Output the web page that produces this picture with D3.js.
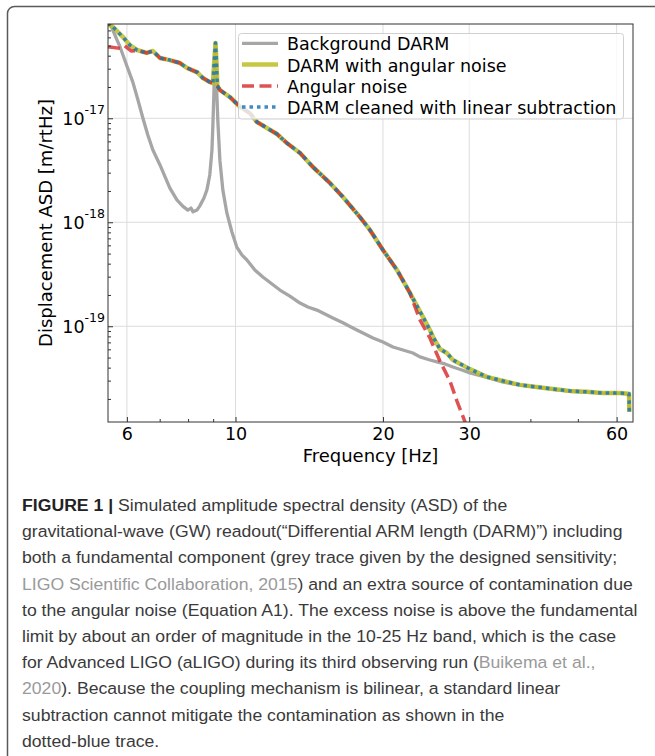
<!DOCTYPE html>
<html>
<head>
<meta charset="utf-8">
<script src="https://cdn.jsdelivr.net/npm/d3@7"></script>
<style>
  body { margin: 0; background: #fff; }
  svg text { font-family: "DejaVu Sans", sans-serif; }
</style>
</head>
<body>
<script>
// values (Hz, m/rtHz)
const bgFreq = [5.49, 5.59, 5.81, 6.00, 6.17, 6.32, 6.47, 6.62, 6.78, 7.01, 7.18, 7.34, 7.59, 7.80, 7.99, 8.11, 8.19, 8.34, 8.45, 8.62, 8.74, 8.86, 8.95, 8.99, 9.03, 9.07, 9.10, 9.13, 9.16, 9.20, 9.29, 9.42, 9.60, 9.83, 10.06, 10.31, 10.55, 10.95, 11.37, 11.87, 12.32, 12.91, 13.54, 14.05, 14.66, 15.22, 15.80, 16.57, 17.36, 18.20, 19.08, 20.00, 20.96, 21.97, 23.02, 23.80, 24.94, 25.78, 26.77, 27.79, 28.99, 30.1, 32.6, 35.2, 38.1, 41.2, 44.5, 48.2, 52.2, 56.3, 61.0, 63.6, 63.7];
const bgAsd = [9.0e-17, 7.4e-17, 4.85e-17, 3.18e-17, 2.23e-17, 1.50e-17, 1.00e-17, 6.91e-18, 4.95e-18, 3.56e-18, 2.73e-18, 2.14e-18, 1.64e-18, 1.43e-18, 1.31e-18, 1.37e-18, 1.26e-18, 1.31e-18, 1.43e-18, 1.71e-18, 2.05e-18, 2.85e-18, 4.95e-18, 8.62e-18, 1.67e-17, 3.63e-17, 5.30e-17, 3.3e-17, 1.67e-17, 9.6e-18, 3.96e-18, 2.05e-18, 1.23e-18, 8.07e-19, 5.78e-19, 4.84e-19, 4.34e-19, 3.48e-19, 2.98e-19, 2.55e-19, 2.23e-19, 1.95e-19, 1.67e-19, 1.53e-19, 1.43e-19, 1.31e-19, 1.20e-19, 1.08e-19, 9.64e-20, 8.63e-20, 7.71e-20, 7.06e-20, 6.32e-20, 5.91e-20, 5.53e-20, 5.07e-20, 4.74e-20, 4.54e-20, 4.34e-20, 4.06e-20, 3.80e-20, 3.56e-20, 3.22e-20, 2.90e-20, 2.71e-20, 2.59e-20, 2.47e-20, 2.37e-20, 2.32e-20, 2.27e-20, 2.26e-20, 2.22e-20, 1.5e-20];

const darmFreq = [5.49, 5.54, 5.62, 5.89, 6.08, 6.29, 6.59, 6.78, 7.01, 7.34, 7.70, 7.96, 8.15, 8.34, 8.58, 8.86, 8.99, 9.05, 9.10, 9.14, 9.18, 9.29, 9.74, 10.21, 10.70, 11.06, 11.59, 12.15, 12.73, 13.54, 14.39, 15.58, 16.57, 17.95, 18.81, 20.00, 21.36, 22.70, 24.13, 24.94, 25.30, 26.14, 27.00, 27.79, 30.1, 32.6, 35.2, 38.1, 41.2, 44.5, 48.2, 52.2, 56.3, 61.0, 63.6, 63.7];
const darmAsd = [8.4e-17, 7.89e-17, 7.55e-17, 6.04e-17, 5.07e-17, 4.54e-17, 4.25e-17, 4.44e-17, 3.80e-17, 3.63e-17, 3.40e-17, 3.05e-17, 2.91e-17, 2.78e-17, 2.44e-17, 2.23e-17, 2.18e-17, 3.63e-17, 5.30e-17, 3.63e-17, 2.05e-17, 1.87e-17, 1.60e-17, 1.29e-17, 1.12e-17, 9.21e-18, 8.07e-18, 7.06e-18, 5.78e-18, 4.64e-18, 3.40e-18, 2.39e-18, 1.75e-18, 1.12e-18, 8.43e-19, 5.42e-19, 3.48e-19, 2.09e-19, 1.23e-19, 9.20e-20, 7.89e-20, 6.05e-20, 5.53e-20, 4.74e-20, 3.87e-20, 3.26e-20, 2.98e-20, 2.73e-20, 2.61e-20, 2.49e-20, 2.39e-20, 2.34e-20, 2.28e-20, 2.28e-20, 2.24e-20, 1.50e-20];

const angFreq = [5.49, 5.54, 5.81, 5.94, 6.13, 6.32, 6.59, 6.78, 7.01, 7.34, 7.70, 7.96, 8.15, 8.34, 8.58, 8.86, 8.99, 9.18, 9.29, 9.74, 10.21, 10.70, 11.06, 11.59, 12.15, 12.73, 13.54, 14.39, 15.58, 16.57, 17.95, 18.81, 20.00, 21.36, 22.70, 23.80, 24.94, 26.14, 27.40, 28.32, 29.40, 29.9];
const angAsd = [4.85e-17, 4.85e-17, 4.70e-17, 4.97e-17, 4.43e-17, 4.50e-17, 4.25e-17, 4.44e-17, 3.80e-17, 3.63e-17, 3.40e-17, 3.05e-17, 2.91e-17, 2.78e-17, 2.44e-17, 2.23e-17, 2.18e-17, 2.05e-17, 1.87e-17, 1.60e-17, 1.29e-17, 1.12e-17, 9.21e-18, 8.07e-18, 7.06e-18, 5.78e-18, 4.64e-18, 3.40e-18, 2.39e-18, 1.75e-18, 1.12e-18, 8.43e-19, 5.42e-19, 3.48e-19, 2.09e-19, 1.15e-19, 7.71e-20, 4.63e-20, 2.98e-20, 1.91e-20, 1.21e-20, 9.5e-21];

const cleanFreq = [5.49, 5.54, 5.62, 5.89, 6.08, 6.29, 6.59, 6.78, 7.01, 7.34, 7.70, 7.96, 8.15, 8.34, 8.58, 8.86, 8.99, 9.05, 9.10, 9.14, 9.18, 9.29, 9.74, 10.21, 10.70, 11.06, 11.59, 12.15, 12.73, 13.54, 14.39, 15.58, 16.57, 17.95, 18.81, 20.00, 21.36, 22.70, 24.13, 24.94, 25.30, 26.14, 27.00, 27.79, 30.1, 32.6, 35.2, 38.1, 41.2, 44.5, 48.2, 52.2, 56.3, 61.0, 63.6, 63.7];
const cleanAsd = [8.4e-17, 7.89e-17, 7.55e-17, 6.04e-17, 5.07e-17, 4.54e-17, 4.25e-17, 4.44e-17, 3.80e-17, 3.63e-17, 3.40e-17, 3.05e-17, 2.91e-17, 2.78e-17, 2.44e-17, 2.23e-17, 2.18e-17, 3.63e-17, 5.30e-17, 3.63e-17, 2.05e-17, 1.87e-17, 1.60e-17, 1.29e-17, 1.12e-17, 9.21e-18, 8.07e-18, 7.06e-18, 5.78e-18, 4.64e-18, 3.40e-18, 2.39e-18, 1.75e-18, 1.12e-18, 8.43e-19, 5.42e-19, 3.48e-19, 2.09e-19, 1.23e-19, 9.20e-20, 7.89e-20, 6.05e-20, 5.53e-20, 4.74e-20, 3.87e-20, 3.26e-20, 2.98e-20, 2.73e-20, 2.61e-20, 2.49e-20, 2.39e-20, 2.34e-20, 2.28e-20, 2.28e-20, 2.24e-20, 1.50e-20];

const xMajor = [6, 10, 20, 30, 60];
const xMinor = [7, 8, 9, 40, 50];
const yMajorExp = [-17, -18, -19];
const yMinor = [2e-20, 3e-20, 4e-20, 5e-20, 6e-20, 7e-20, 8e-20, 9e-20,
                2e-19, 3e-19, 4e-19, 5e-19, 6e-19, 7e-19, 8e-19, 9e-19,
                2e-18, 3e-18, 4e-18, 5e-18, 6e-18, 7e-18, 8e-18, 9e-18,
                2e-17, 3e-17, 4e-17, 5e-17, 6e-17, 7e-17, 8e-17];

const legendNames = ["Background DARM", "DARM with angular noise", "Angular noise", "DARM cleaned with linear subtraction"];

const captionLines = [
  [["FIGURE 1 |", "b"], [" Simulated amplitude spectral density (ASD) of the", "n"]],
  [["gravitational-wave (GW) readout(\u201cDifferential ARM length (DARM)\u201d) including", "n"]],
  [["both a fundamental component (grey trace given by the designed sensitivity;", "n"]],
  [["LIGO Scientific Collaboration, 2015", "l"], [") and an extra source of contamination due", "n"]],
  [["to the angular noise (Equation A1). The excess noise is above the fundamental", "n"]],
  [["limit by about an order of magnitude in the 10-25 Hz band, which is the case", "n"]],
  [["for Advanced LIGO (aLIGO) during its third observing run (", "n"], ["Buikema et al.,", "l"]],
  [["2020", "l"], ["). Because the coupling mechanism is bilinear, a standard linear", "n"]],
  [["subtraction cannot mitigate the contamination as shown in the", "n"]],
  [["dotted-blue trace.", "n"]]
];

let width = 655;
let height = 756;
let pLeft = 108, pRight = 633, pTop = 24, pBottom = 422;

const svg = d3.select("body")
              .append("svg")
              .attr("width", width)
              .attr("height", height);

// outer frame of the figure box
svg.append("rect")
   .attr("x", 7.5).attr("y", 6.5)
   .attr("width", 720).attr("height", 820)
   .attr("rx", 7)
   .attr("fill", "none")
   .attr("stroke", "#5a5a5a")
   .attr("stroke-width", 1.5);

const xScale = d3.scaleLog()
                 .domain([5.49, 64.8])
                 .range([pLeft, pRight]);

const yScale = d3.scaleLog()
                 .domain([1.2e-20, 8.07e-17])
                 .range([pBottom, pTop]);

// grid
svg.append("g").selectAll("line")
   .data(xMajor).enter().append("line")
   .attr("x1", d => xScale(d)).attr("x2", d => xScale(d))
   .attr("y1", pTop).attr("y2", pBottom)
   .attr("stroke", "#dcdcdc").attr("stroke-width", 1);

svg.append("g").selectAll("line")
   .data(yMajorExp).enter().append("line")
   .attr("x1", pLeft).attr("x2", pRight)
   .attr("y1", d => yScale(Math.pow(10, d))).attr("y2", d => yScale(Math.pow(10, d)))
   .attr("stroke", "#dcdcdc").attr("stroke-width", 1);

// curves
svg.append("clipPath").attr("id", "plotclip")
   .append("rect").attr("x", pLeft).attr("y", pTop)
   .attr("width", pRight - pLeft).attr("height", pBottom - pTop);

const line = d3.line()
               .x(d => xScale(d[0]))
               .y(d => yScale(d[1]));

const series = [
  {f: bgFreq, a: bgAsd, color: "#a6a6a6", w: 3.3, dash: null, op: 1},
  {f: darmFreq, a: darmAsd, color: "#bcbd22", w: 4.5, dash: null, op: 0.85},
  {f: angFreq, a: angAsd, color: "#d62728", w: 3.5, dash: "12,5.5", op: 0.8},
  {f: cleanFreq, a: cleanAsd, color: "#1f77b4", w: 3.5, dash: "3.5,4", op: 0.85}
];

const curves = svg.append("g").attr("clip-path", "url(#plotclip)");
series.forEach(s => {
  curves.append("path")
        .datum(d3.zip(s.f, s.a))
        .attr("d", line)
        .attr("fill", "none")
        .attr("stroke", s.color)
        .attr("stroke-opacity", s.op)
        .attr("stroke-width", s.w)
        .attr("stroke-dasharray", s.dash)
        .attr("stroke-linejoin", "round");
});

// axes (ticks pointing inward)
const xAxis = d3.axisBottom(xScale).tickValues(xMajor).tickSize(-5).tickPadding(6).tickFormat(d => d);
const xAxisMinor = d3.axisBottom(xScale).tickValues(xMinor).tickSize(-3).tickFormat("");

svg.append("g")
   .attr("transform", "translate(0," + pBottom + ")")
   .call(xAxis)
   .attr("font-size", 17.5).attr("font-family", "DejaVu Sans").attr("color", "#333")
   .call(g => g.select(".domain").remove())
   .selectAll("text").attr("fill", "#000");

svg.append("g")
   .attr("transform", "translate(0," + pBottom + ")")
   .call(xAxisMinor).attr("color", "#333")
   .call(g => g.select(".domain").remove());

const yAxis = d3.axisLeft(yScale).tickValues(yMajorExp.map(e => Math.pow(10, e))).tickSize(-5).tickFormat("");
const yAxisMinor = d3.axisLeft(yScale).tickValues(yMinor).tickSize(-3).tickFormat("");

const yg = svg.append("g")
   .attr("transform", "translate(" + pLeft + ",0)")
   .call(yAxis).attr("color", "#333")
   .call(g => g.select(".domain").remove());

const yLabels = yg.selectAll(".tick").append("text")
   .attr("x", -3).attr("y", 6.5)
   .attr("text-anchor", "end")
   .attr("fill", "#000")
   .attr("font-size", 17.5)
   .attr("font-family", "DejaVu Sans");
yLabels.append("tspan").text("10");
yLabels.append("tspan").attr("dy", -11).attr("font-size", 12.5).text((d, i) => yMajorExp[i]);

svg.append("g")
   .attr("transform", "translate(" + pLeft + ",0)")
   .call(yAxisMinor).attr("color", "#333")
   .call(g => g.select(".domain").remove());

svg.append("rect")
   .attr("x", pLeft).attr("y", pTop)
   .attr("width", pRight - pLeft).attr("height", pBottom - pTop)
   .attr("fill", "none").attr("stroke", "#333").attr("stroke-width", 1);

svg.append("text")
   .attr("x", (pLeft + pRight) / 2).attr("y", 462)
   .attr("text-anchor", "middle")
   .attr("font-size", 18)
   .text("Frequency [Hz]");

svg.append("text")
   .attr("transform", "translate(52," + (pTop + pBottom) / 2 + ") rotate(-90)")
   .attr("text-anchor", "middle")
   .attr("font-size", 18)
   .text("Displacement ASD [m/rtHz]");

// legend
const legend = svg.append("g");
legend.append("rect")
      .attr("x", 238.5).attr("y", 33.5)
      .attr("width", 385).attr("height", 85.5)
      .attr("rx", 3)
      .attr("fill", "#fff").attr("fill-opacity", 0.8)
      .attr("stroke", "#d0d0d0").attr("stroke-width", 1);

const legendY = [43.3, 64.6, 85.9, 107];
series.forEach((s, i) => {
  legend.append("line")
        .attr("x1", 242).attr("x2", 278)
        .attr("y1", legendY[i]).attr("y2", legendY[i])
        .attr("stroke", s.color)
        .attr("stroke-opacity", s.op)
        .attr("stroke-width", s.w)
        .attr("stroke-dasharray", s.dash);
  legend.append("text")
        .attr("x", 287).attr("y", legendY[i] + 7)
        .attr("font-size", 17.5)
        .text(legendNames[i]);
});

// caption
const cap = svg.append("g");
const capRows = cap.selectAll("text")
   .data(captionLines).enter().append("text")
   .style("font-family", "'Liberation Sans', Arial, sans-serif")
   .attr("font-size", 17)
   .attr("fill", "#3a3a3a");

capRows.selectAll("tspan")
   .data(d => d).enter().append("tspan")
   .text(d => d[0])
   .attr("font-weight", d => d[1] == "b" ? "bold" : "normal")
   .attr("fill", d => d[1] == "l" ? "#9a9a9a" : (d[1] == "b" ? "#222" : "#3a3a3a"));

const refWidth = capRows.nodes()[4].getComputedTextLength();
const sx = 616 / refWidth;
capRows.attr("transform", (d, i) => "translate(22," + (511 + i * 26.2) + ") scale(" + sx + ",1)");
</script>
</body>
</html>
